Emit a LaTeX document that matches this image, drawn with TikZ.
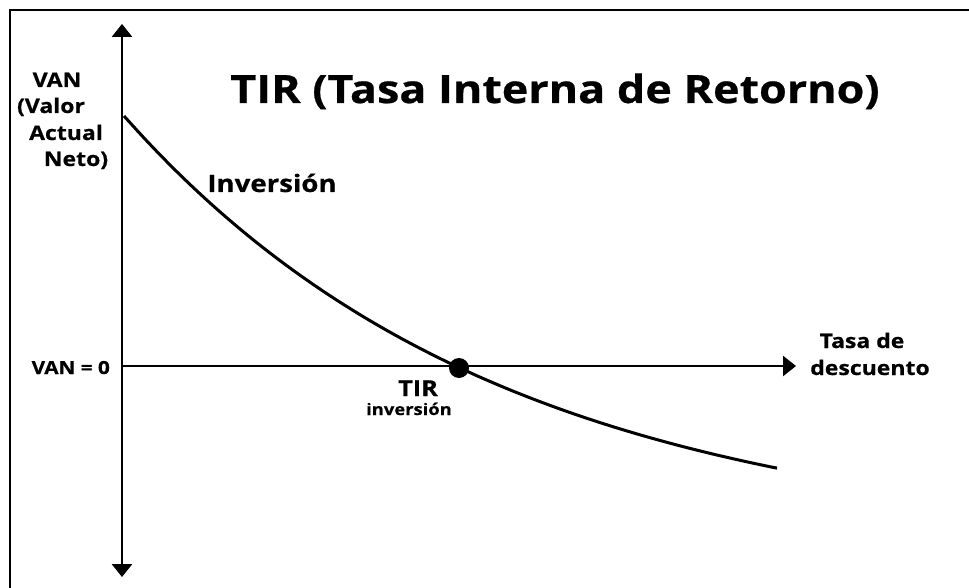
\documentclass[tikz,border=0pt]{standalone}
\usepackage{fontspec}
\setmainfont{Open Sans}[FakeStretch=1.15, BoldFeatures={FakeBold=0.6}]
\usetikzlibrary{arrows.meta}
\tikzset{
  axis/.style={line width=2.8pt, -{Triangle[length=13pt,width=20pt]}},
  lbl/.style={font=\bfseries\fontsize{#1}{#1}\selectfont, inner sep=0pt, anchor=base},
  curve/.style={line width=3pt},
}
\begin{document}
\begin{tikzpicture}[x=1pt,y=-1pt]
\useasboundingbox (0,0) rectangle (969,588);
\fill[white] (0,0) rectangle (969,588);
% frame
\draw[line width=1.5pt] (10,588) -- (10,10) -- (969,10);
% axes
\coordinate (o) at (122,366);
\coordinate (top) at (122,24);
\coordinate (bot) at (122,577);
\coordinate (right) at (796,366);
\draw[axis] (o) -- (top);
\draw[axis] (o) -- (bot);
\draw[axis, line width=2.4pt] (o) -- (right);
% curve
\draw[curve] plot[domain=124:777, samples=90] (\x, {544.6-428.6*exp(-0.002639*(\x-124))});
\node[circle, fill=black, minimum size=20pt, inner sep=0pt] (tir) at (459,368) {};
% labels
\node[lbl=39] (title) at (555,103) {TIR (Tasa Interna de Retorno)};
\node[lbl=20] (van1) at (57,87) {VAN};
\node[lbl=20] (van2) at (51,113) {(Valor};
\node[lbl=20] (van3) at (66,140) {Actual};
\node[lbl=20] (van4) at (76,166) {Neto)};
\node[lbl=18, anchor=base east] (van0) at (110,374) {VAN = 0};
\node[lbl=20] (tasa1) at (862,348) {Tasa de};
\node[lbl=20] (tasa2) at (870,375) {descuento};
\node[lbl=24] (inv) at (272,192) {Inversión};
\node[lbl=22] (tirl) at (418,396) {TIR};
\node[lbl=16] (tirinv) at (409,415) {inversión};
\end{tikzpicture}
\end{document}
